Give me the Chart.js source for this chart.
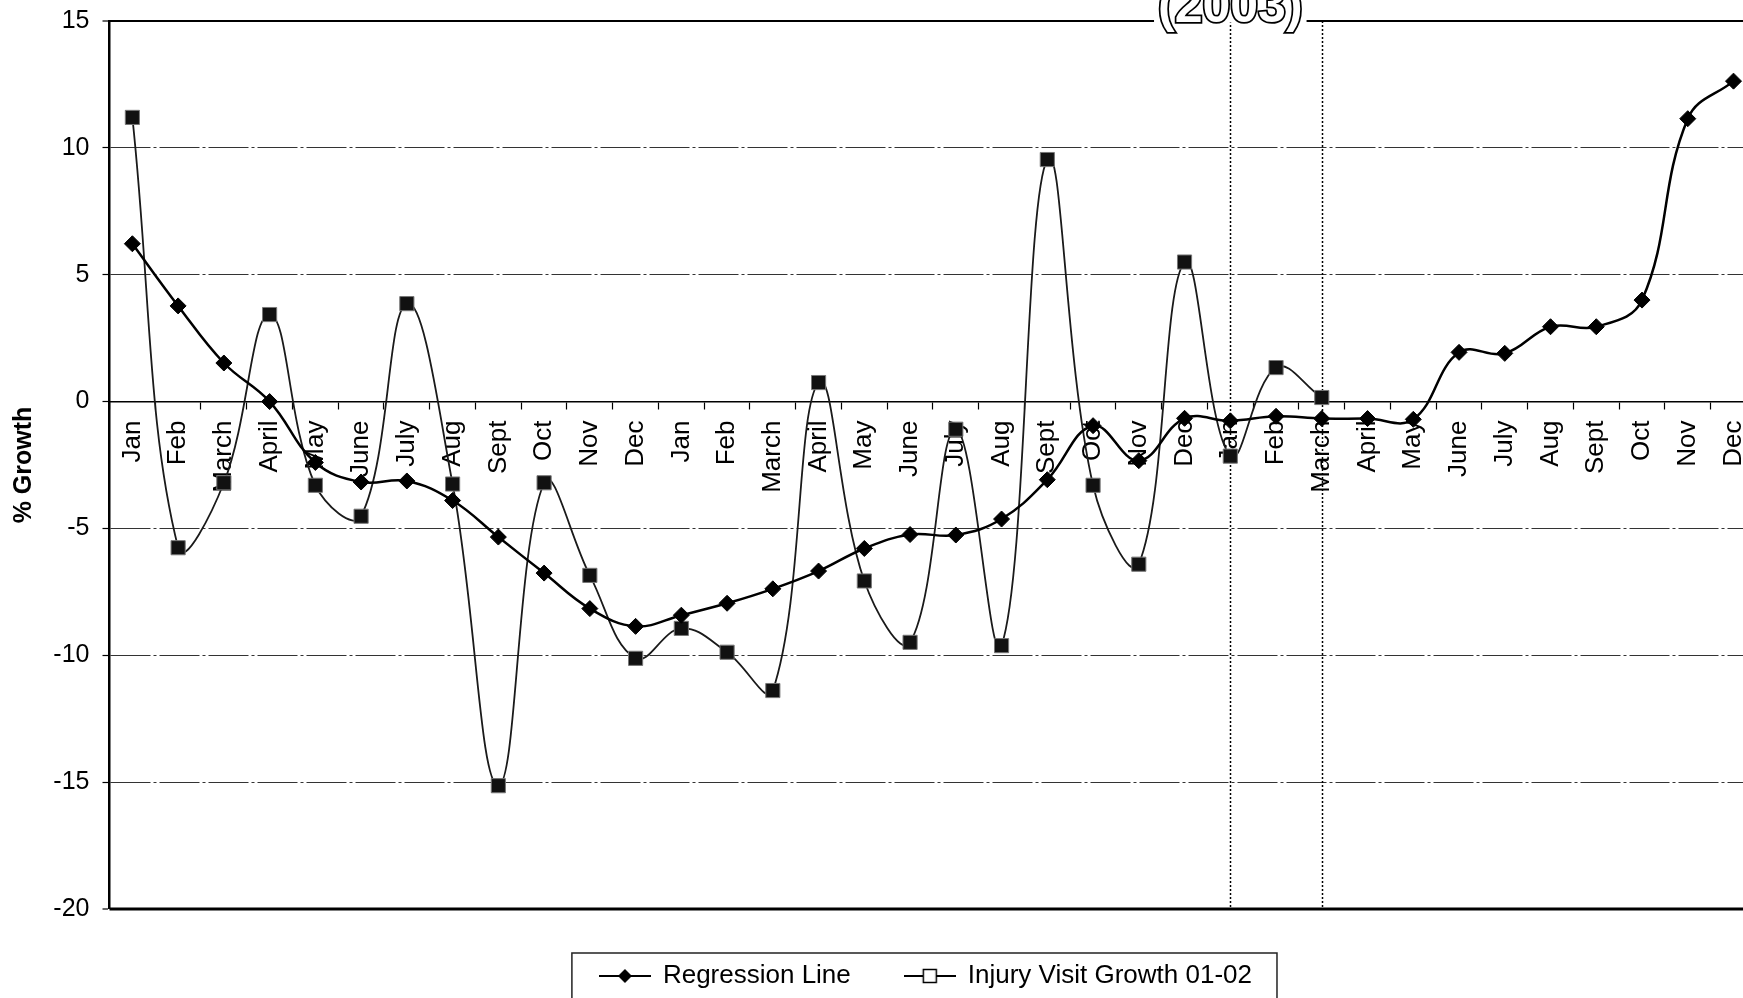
<!DOCTYPE html>
<html><head><meta charset="utf-8">
<script src="https://cdn.jsdelivr.net/npm/chart.js@4/dist/chart.umd.min.js"></script>
<style>html,body{margin:0;padding:0;overflow:hidden;background:#fff;width:1743px;height:998px}canvas{display:block}</style>
</head><body>
<canvas id="c" width="1777" height="999"></canvas>
<script>
const categories = ['Jan','Feb','March','April','May','June','July','Aug','Sept','Oct','Nov','Dec',
  'Jan','Feb','March','April','May','June','July','Aug','Sept','Oct','Nov','Dec',
  'Jan','Feb','March','April','May','June','July','Aug','Sept','Oct','Nov','Dec'];
const regressionLine = [6.22, 3.77, 1.52, 0.0, -2.4, -3.17, -3.13, -3.9, -5.34, -6.76, -8.16, -8.86,
  -8.42, -7.95, -7.38, -6.68, -5.79, -5.24, -5.26, -4.63, -3.08, -0.95, -2.33, -0.66,
  -0.76, -0.58, -0.67, -0.67, -0.70, 1.94, 1.90, 2.95, 2.95, 4.00, 11.15, 12.63];
const injuryVisitGrowth = [11.2, -5.76, -3.2, 3.43, -3.3, -4.52, 3.86, -3.25, -15.14, -3.2, -6.85, -10.12,
  -8.94, -9.88, -11.39, 0.75, -7.07, -9.49, -1.09, -9.62, 9.54, -3.3, -6.41, 5.5,
  -2.15, 1.34, 0.16];
const yTicks = [-20, -15, -10, -5, 0, 5, 10, 15];
const markerIndices = [24, 26];
const yearLabel = '(2003)';
const seriesNames = ['Regression Line', 'Injury Visit Growth 01-02'];

const FONT = '"Liberation Sans", Arial, sans-serif';

function legendSymbol(kind) {
  const c = document.createElement('canvas');
  c.width = 52; c.height = 20;
  const g = c.getContext('2d');
  g.strokeStyle = '#000'; g.lineWidth = 2;
  g.beginPath(); g.moveTo(0, 10); g.lineTo(52, 10); g.stroke();
  if (kind === 'diamond') {
    g.fillStyle = '#000';
    g.beginPath(); g.moveTo(26, 3); g.lineTo(33, 10); g.lineTo(26, 17); g.lineTo(19, 10); g.closePath(); g.fill();
  } else {
    g.fillStyle = '#fff'; g.lineWidth = 1.5;
    g.fillRect(19.5, 3.5, 13, 13); g.strokeRect(19.5, 3.5, 13, 13);
  }
  return c;
}
const legendSymbols = [legendSymbol('diamond'), legendSymbol('square')];

const decor = {
  id: 'decor',
  afterLayout(chart) {
    if (chart.legend) { chart.legend.left -= 7; chart.legend.right -= 7; }
  },
  beforeDatasetsDraw(chart) {
    const {ctx, chartArea: a, scales: {x, y}} = chart;
    ctx.save();
    ctx.strokeStyle = '#000';
    ctx.lineWidth = 2;
    let py = y.getPixelForValue(yTicks[yTicks.length - 1]);
    ctx.beginPath(); ctx.moveTo(a.left, py); ctx.lineTo(a.right, py); ctx.stroke();
    ctx.lineWidth = 3;
    py = y.getPixelForValue(yTicks[0]);
    ctx.beginPath(); ctx.moveTo(a.left, py); ctx.lineTo(a.right, py); ctx.stroke();
    ctx.setLineDash([2, 2]);
    ctx.lineWidth = 1.5;
    markerIndices.forEach(i => {
      const px = Math.round(x.getPixelForValue(i)) + 0.5;
      ctx.beginPath(); ctx.moveTo(px, a.top); ctx.lineTo(px, a.bottom); ctx.stroke();
    });
    ctx.restore();
  },
  afterDraw(chart) {
    const {ctx, chartArea: a, scales: {x}} = chart;
    ctx.save();
    const cx = x.getPixelForValue(markerIndices[0]);
    ctx.font = 'bold 50px ' + FONT;
    const w = ctx.measureText(yearLabel).width;
    ctx.fillStyle = '#fff';
    ctx.fillRect(cx - w / 2 - 4, 0, w + 8, a.top + 1.5);
    ctx.textAlign = 'center';
    ctx.textBaseline = 'alphabetic';
    ctx.lineWidth = 3.5;
    ctx.strokeStyle = '#000';
    ctx.strokeText(yearLabel, cx, a.top + 1);
    ctx.fillStyle = '#fff';
    ctx.fillText(yearLabel, cx, a.top + 1);
    const hb = chart.legend.legendHitBoxes;
    if (hb && hb.length) {
      const x1 = hb[0].left - 28;
      const last = hb[hb.length - 1];
      const x2 = last.left + last.width + 25;
      const y1 = hb[0].top - 10;
      ctx.lineWidth = 1.5;
      ctx.strokeStyle = '#222';
      ctx.strokeRect(x1, y1, x2 - x1, chart.height + 10 - y1);
    }
    ctx.restore();
  }
};

new Chart(document.getElementById('c'), {
  type: 'line',
  data: {
    labels: categories,
    datasets: [
      {
        label: seriesNames[0],
        data: regressionLine,
        borderColor: '#000',
        backgroundColor: '#000',
        borderWidth: 2.5,
        tension: 0.4,
        pointStyle: 'rectRot',
        pointRadius: 8,
        pointBackgroundColor: '#000',
        pointBorderColor: '#000',
        pointBorderWidth: 1,
        order: 0
      },
      {
        label: seriesNames[1],
        data: injuryVisitGrowth,
        borderColor: '#1a1a1a',
        backgroundColor: '#111',
        borderWidth: 1.8,
        tension: 0.4,
        pointStyle: 'rect',
        pointRadius: 10,
        pointBackgroundColor: '#111',
        pointBorderColor: '#777',
        pointBorderWidth: 1,
        order: 1
      }
    ]
  },
  options: {
    responsive: false,
    animation: false,
    devicePixelRatio: 1,
    layout: {padding: {top: 21, right: 0, left: 0, bottom: 0}},
    scales: {
      x: {
        type: 'category',
        offset: true,
        position: {y: 0},
        grid: {offset: true, drawOnChartArea: false, drawTicks: true, tickLength: 7, tickColor: '#000', tickWidth: 1.2},
        border: {display: true, color: '#000', width: 1.5},
        ticks: {autoSkip: false, maxRotation: 90, minRotation: 90, padding: 12, color: '#000', font: {family: FONT, size: 26}},
        afterFit: s => { s.height = 0; }
      },
      y: {
        position: 'left',
        min: yTicks[0],
        max: yTicks[yTicks.length - 1],
        afterBuildTicks: s => { s.ticks = yTicks.map(v => ({value: v})); },
        afterFit: s => { s.width = 109.5; s.paddingTop = 0; s.paddingBottom = 0; },
        grid: {
          color: '#333',
          lineWidth: c => (c.tick && (c.tick.value === yTicks[0] || c.tick.value === yTicks[yTicks.length - 1])) ? 0 : 1,
          drawTicks: true, tickLength: 7, tickColor: '#000', tickWidth: 1.2, tickBorderDash: []
        },
        border: {display: true, color: '#000', width: 2.5, dash: [40, 3, 3, 3]},
        ticks: {padding: 13, color: '#000', font: {family: FONT, size: 25}},
        title: {display: true, text: '% Growth', color: '#000', font: {family: FONT, size: 25, weight: 'bold'}, padding: {top: 9, bottom: 0}}
      }
    },
    plugins: {
      tooltip: {enabled: false},
      legend: {
        position: 'bottom',
        fullSize: false,
        labels: {
          usePointStyle: true,
          pointStyleWidth: 50,
          padding: 54,
          color: '#000',
          font: {family: FONT, size: 26},
          generateLabels: chart => {
            const items = Chart.defaults.plugins.legend.labels.generateLabels(chart);
            items.forEach((it, i) => { it.pointStyle = legendSymbols[i]; });
            return items;
          }
        }
      }
    }
  },
  plugins: [decor]
});
</script>
</body></html>
